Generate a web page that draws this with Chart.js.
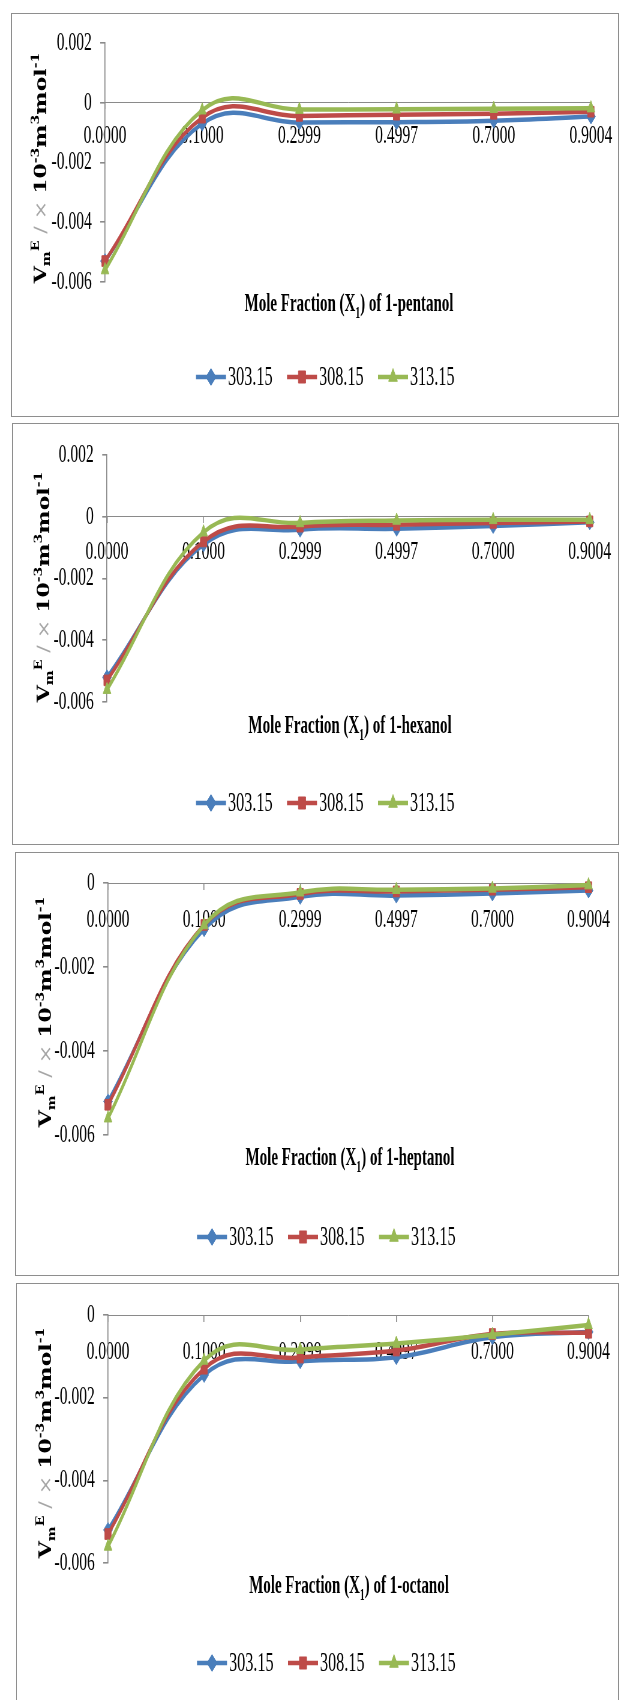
<!DOCTYPE html>
<html><head><meta charset="utf-8">
<script src="https://cdn.jsdelivr.net/npm/chart.js@4.4.0/dist/chart.umd.min.js"></script>
<style>
html,body{margin:0;padding:0;background:#fff;}
body{width:619px;height:1700px;position:relative;overflow:hidden;}
.frame{position:absolute;border:1.5px solid #8e8e8e;box-sizing:border-box;pointer-events:none;}
.wrap{position:absolute;left:0;transform-origin:0 0;}
.wrap canvas{display:block;}
</style></head><body>
<script>
// ---------- data ----------
const categories = ['0.0000','0.1000','0.2999','0.4997','0.7000','0.9004'];
const seriesLabels = ['303.15','308.15','313.15'];
const seriesColors = ['#4A7EBB','#BE4B48','#98B954'];
const pointStyles = ['rectRot','rect','triangle'];

const yTickValuesA = [0.002, 0, -0.002, -0.004, -0.006];
const yTickLabelsA = ['0.002','0','-0.002','-0.004','-0.006'];
const yTickValuesB = [0, -0.002, -0.004, -0.006];
const yTickLabelsB = ['0','-0.002','-0.004','-0.006'];

const pentanol303 = [-0.0053, -0.0007, -0.00066, -0.00065, -0.0006, -0.00046];
const pentanol308 = [-0.0053, -0.0005, -0.00044, -0.0004, -0.00037, -0.0003];
const pentanol313 = [-0.0056, -0.00025, -0.00023, -0.00022, -0.0002, -0.00018];

const hexanol303 = [-0.0052, -0.0009, -0.00042, -0.00039, -0.0003, -0.00018];
const hexanol308 = [-0.0053, -0.0008, -0.00032, -0.00026, -0.0002, -0.00015];
const hexanol313 = [-0.0056, -0.0005, -0.0002, -0.00012, -0.0001, -0.0001];

const heptanol303 = [-0.0052, -0.0011, -0.00033, -0.0003, -0.00025, -0.00018];
const heptanol308 = [-0.00528, -0.001, -0.00026, -0.0002, -0.00016, -0.0001];
const heptanol313 = [-0.0056, -0.001, -0.00022, -0.00016, -0.00013, -0.00005];

const octanol303 = [-0.0052, -0.00145, -0.00112, -0.00102, -0.00054, -0.00041];
const octanol308 = [-0.0053, -0.0013, -0.00103, -0.00086, -0.00046, -0.00043];
const octanol313 = [-0.0056, -0.0011, -0.00084, -0.00069, -0.00048, -0.00024];

const alcoholNames = ['1-pentanol','1-hexanol','1-heptanol','1-octanol'];

// ---------- layout (page px) ----------
const S = 0.6;                  // horizontal condensation of the figure
const W = Math.ceil(619 / S);   // internal canvas width

const panels = [
  { name: alcoholNames[0], series: [pentanol303, pentanol308, pentanol313], yMax: 0.002, tv: yTickValuesA, tl: yTickLabelsA,
    top: 13, bottom: 417, left: 11, xFirst: 105, xLast: 593, yTop: 43, yBot: 282,
    yTitle: {x: 40, cy: 168}, xTitle: {cx: 349, y: 303}, legend: {x0: 196, y: 377}, labOff: 33 },
  { name: alcoholNames[1], series: [hexanol303, hexanol308, hexanol313], yMax: 0.002, tv: yTickValuesA, tl: yTickLabelsA,
    top: 423, bottom: 845, left: 12, xFirst: 107, xLast: 593, yTop: 455, yBot: 702,
    yTitle: {x: 43, cy: 587}, xTitle: {cx: 350, y: 725}, legend: {x0: 196, y: 803}, labOff: 35 },
  { name: alcoholNames[2], series: [heptanol303, heptanol308, heptanol313], yMax: 0, tv: yTickValuesB, tl: yTickLabelsB,
    top: 852, bottom: 1276, left: 15, xFirst: 108, xLast: 591, yTop: 883, yBot: 1135,
    yTitle: {x: 45, cy: 1012}, xTitle: {cx: 350, y: 1157}, legend: {x0: 197, y: 1237}, labOff: 37 },
  { name: alcoholNames[3], series: [octanol303, octanol308, octanol313], yMax: 0, tv: yTickValuesB, tl: yTickLabelsB,
    top: 1283, bottom: 1712, left: 16, xFirst: 108, xLast: 589, yTop: 1315, yBot: 1563,
    yTitle: {x: 45, cy: 1443}, xTitle: {cx: 349, y: 1585}, legend: {x0: 197, y: 1663}, labOff: 37 }
];

// ---------- decoration plugin (titles + legend) ----------
function drawSegments(ctx, segs, startX, baseY) {
  let x = startX;
  for (const sg of segs) {
    ctx.font = sg.font;
    ctx.fillStyle = sg.color || '#000';
    ctx.fillText(sg.t, x, baseY + (sg.dy || 0));
    x += ctx.measureText(sg.t).width;
  }
}
function segWidth(ctx, segs) {
  let w = 0;
  for (const sg of segs) { ctx.font = sg.font; w += ctx.measureText(sg.t).width; }
  return w;
}

const decor = {
  id: 'decor',
  afterDraw(chart, args, o) {
    const p = o.panel;
    const ctx = chart.ctx;
    ctx.save();
    ctx.textBaseline = 'alphabetic';
    ctx.textAlign = 'left';

    // Y title (rotated, glyphs slightly extended)
    const f = 22;
    const B = `bold ${f}px "DejaVu Serif"`;
    const Bs = `bold ${Math.round(f * 0.65)}px "DejaVu Serif"`;
    const ySegs = [
      {t: 'V', font: B},
      {t: 'm', font: Bs, dy: 0.22 * f},
      {t: 'E', font: Bs, dy: -0.42 * f},
      {t: ' / \u00d7 ', font: `${f}px "DejaVu Serif"`, color: '#a6a6a6'},
      {t: '10', font: B},
      {t: '-3', font: Bs, dy: -0.42 * f},
      {t: 'm', font: B},
      {t: '3', font: Bs, dy: -0.42 * f},
      {t: 'mol', font: B},
      {t: '-1', font: Bs, dy: -0.42 * f}
    ];
    const yw = segWidth(ctx, ySegs);
    ctx.save();
    ctx.translate(p.yTitle.x / S, p.yTitle.cy - p.top);
    ctx.rotate(-Math.PI / 2);
    ctx.scale(1, 1.3);
    drawSegments(ctx, ySegs, -yw / 2, 0.36 * f);
    ctx.restore();

    // X title
    const tf = 25;
    const TB = `bold ${tf}px "Liberation Serif"`;
    const xSegs = [
      {t: 'Mole Fraction (X', font: TB},
      {t: '1', font: `bold ${Math.round(tf * 0.65)}px "Liberation Serif"`, dy: 0.25 * tf},
      {t: ') of ' + p.name, font: TB}
    ];
    const xw = segWidth(ctx, xSegs);
    drawSegments(ctx, xSegs, p.xTitle.cx / S - xw / 2, p.xTitle.y - p.top + 0.33 * tf);

    // Legend
    const ly = p.legend.y - p.top;
    for (let i = 0; i < seriesLabels.length; i++) {
      const x0 = (p.legend.x0 + i * 91) / S;
      const x1 = x0 + 30 / S;
      ctx.strokeStyle = seriesColors[i];
      ctx.lineWidth = 4.5;
      ctx.beginPath(); ctx.moveTo(x0, ly); ctx.lineTo(x1, ly); ctx.stroke();
      ctx.fillStyle = seriesColors[i];
      ctx.lineWidth = 1;
      Chart.helpers.drawPoint(ctx, {pointStyle: pointStyles[i], radius: 8.5, rotation: 0, borderWidth: 1}, (x0 + x1) / 2, ly);
      ctx.font = '27px "Liberation Serif"';
      ctx.fillStyle = '#000';
      ctx.textBaseline = 'middle';
      ctx.fillText(seriesLabels[i], x1 + 2 / S, ly + 1);
      ctx.textBaseline = 'alphabetic';
    }
    ctx.restore();
  }
};

// ---------- build ----------
panels.forEach((p) => {
  const H = p.bottom - p.top;
  const wrap = document.createElement('div');
  wrap.className = 'wrap';
  wrap.style.top = p.top + 'px';
  wrap.style.width = W + 'px';
  wrap.style.height = H + 'px';
  wrap.style.transform = `scaleX(${S})`;
  const cv = document.createElement('canvas');
  cv.width = W; cv.height = H;
  wrap.appendChild(cv);
  document.body.appendChild(wrap);

  const frame = document.createElement('div');
  frame.className = 'frame';
  frame.style.left = p.left + 'px';
  frame.style.top = p.top + 'px';
  frame.style.width = (619 - p.left) + 'px';
  frame.style.height = H + 'px';
  document.body.appendChild(frame);

  const areaLeft = p.xFirst / S;
  const areaRight = p.xLast / S;
  const areaTop = p.yTop - p.top;
  const areaBot = p.yBot - p.top;

  const datasets = p.series.map((vals, i) => ({
    label: seriesLabels[i],
    data: vals,
    borderColor: seriesColors[i],
    backgroundColor: seriesColors[i],
    borderWidth: 4.5,
    pointStyle: pointStyles[i],
    pointRadius: 7.5,
    pointBorderWidth: 1,
    pointBackgroundColor: seriesColors[i],
    pointBorderColor: seriesColors[i],
    tension: 0.4,
    clip: false,
    order: 2 - i
  }));

  new Chart(cv, {
    type: 'line',
    data: { labels: categories, datasets },
    plugins: [decor],
    options: {
      responsive: false,
      animation: false,
      devicePixelRatio: 1,
      layout: { autoPadding: false, padding: { left: 0, right: W - areaRight, top: areaTop, bottom: H - areaBot } },
      plugins: { legend: { display: false }, tooltip: { enabled: false }, title: { display: false }, decor: { panel: p } },
      scales: {
        x: {
          type: 'category',
          position: { y: 0 },
          offset: false,
          grid: { display: true, drawOnChartArea: false, drawTicks: true, tickLength: 6, color: '#8a8a8a', lineWidth: 1.6 },
          border: { display: true, color: '#8a8a8a', width: 1 },
          ticks: { color: '#000', font: { family: 'Liberation Serif', size: 26 }, padding: p.labOff - 6 - 15.6, maxRotation: 0, autoSkip: false }
        },
        y: {
          min: -0.006,
          max: p.yMax,
          afterFit: (sc) => { sc.width = areaLeft; },
          afterBuildTicks: (sc) => { sc.ticks = p.tv.map(v => ({ value: v })); },
          grid: { display: true, drawOnChartArea: false, drawTicks: true, tickLength: 8, color: '#8a8a8a', lineWidth: 1.6 },
          border: { display: true, color: '#8a8a8a', width: 1.7 },
          ticks: {
            color: '#000', font: { family: 'Liberation Serif', size: 26 }, padding: 14,
            callback: (v) => { const k = p.tv.findIndex(t => Math.abs(t - v) < 1e-9); return k >= 0 ? p.tl[k] : ''; }
          }
        }
      }
    }
  });
});
</script>
</body></html>
